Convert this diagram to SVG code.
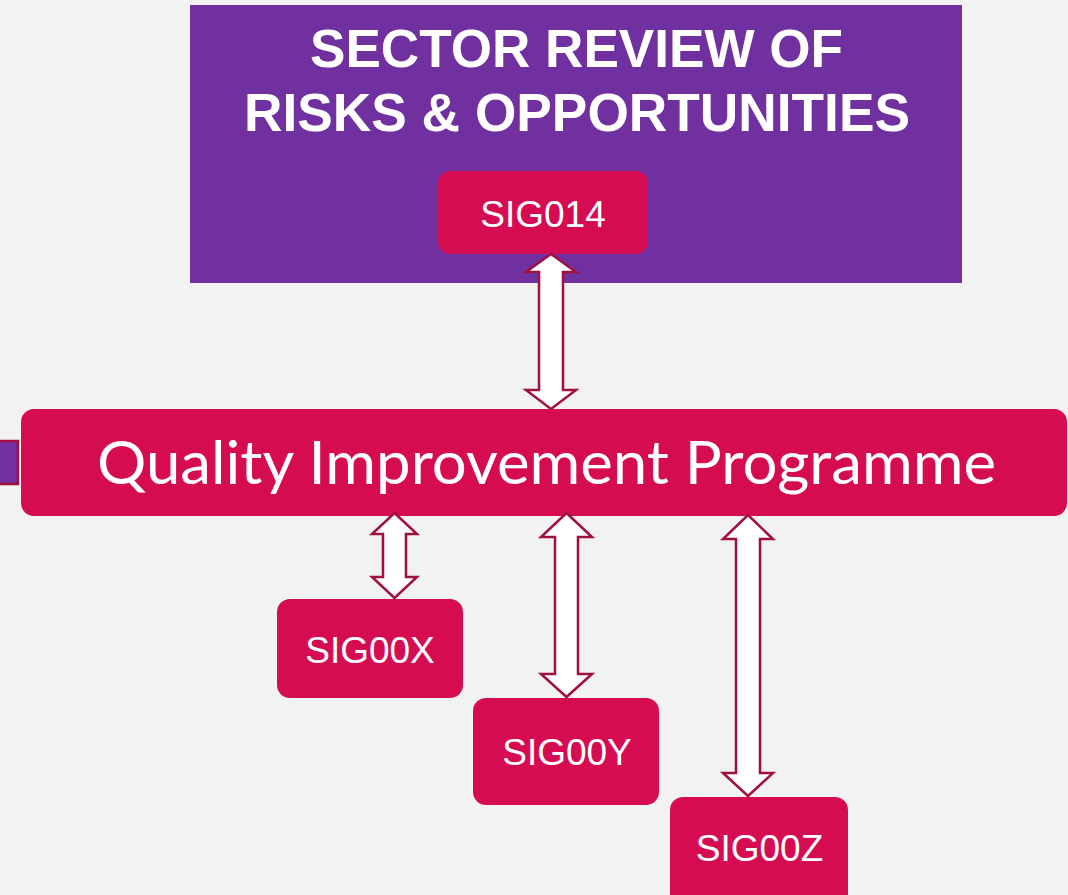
<svg xmlns="http://www.w3.org/2000/svg" width="1068" height="895" viewBox="0 0 1068 895">
<style>
.node{fill:#D60C52}
.sig{font-family:"Liberation Sans",Arial,sans-serif;font-size:37px;fill:#FFFFFF;text-anchor:middle}
.title{font-family:"Liberation Sans",Arial,sans-serif;font-weight:bold;font-size:54px;fill:#FFFFFF;text-anchor:middle}
.qip{font-family:Lato,"Open Sans",sans-serif;font-size:60px;fill:#FFFFFF;text-anchor:middle}
.arrow{fill:#FFFFFF;stroke:#A0103F;stroke-width:2.5;stroke-linejoin:miter}
</style>
<rect x="0" y="0" width="1068" height="895" fill="#F2F2F2"/>
<g id="sector-review">
<rect x="190" y="5" width="772" height="278" fill="#7030A0"/>
<text class="title" x="576.5" y="67" textLength="533" lengthAdjust="spacingAndGlyphs">SECTOR REVIEW OF</text>
<text class="title" x="577" y="131" textLength="666" lengthAdjust="spacingAndGlyphs">RISKS &amp; OPPORTUNITIES</text>
</g>
<g id="side-tab">
<rect x="-2" y="441" width="20" height="43" fill="#7030A0" stroke="#A50D3F" stroke-width="2.5"/>
</g>
<g id="qip">
<rect class="node" x="21" y="409" width="1046" height="107" rx="13"/>
<text class="qip" x="546.5" y="484" textLength="899" lengthAdjust="spacingAndGlyphs">Quality Improvement Programme</text>
</g>
<g id="sig014">
<rect class="node" x="438" y="171" width="210" height="83" rx="12"/>
<text class="sig" x="543" y="227">SIG014</text>
</g>
<g id="sig00x">
<rect class="node" x="277" y="599" width="186" height="99" rx="13"/>
<text class="sig" x="370" y="663">SIG00X</text>
</g>
<g id="sig00y">
<rect class="node" x="473" y="698" width="186" height="107" rx="13"/>
<text class="sig" x="567" y="765">SIG00Y</text>
</g>
<g id="sig00z">
<rect class="node" x="670" y="797" width="178" height="110" rx="13"/>
<text class="sig" x="759.5" y="861">SIG00Z</text>
</g>
<g id="connectors">
<path class="arrow" d="M551 254 L576 272 L563 272 L563 390 L576 390 L551 409 L526 390 L539 390 L539 272 L526 272 Z"/>
<path class="arrow" d="M394.5 513 L417 534 L406 534 L406 577 L417 577 L394.5 598 L372 577 L383 577 L383 534 L372 534 Z"/>
<path class="arrow" d="M566.5 513 L592 537 L578 537 L578 674 L592 674 L566.5 697 L541 674 L555 674 L555 537 L541 537 Z"/>
<path class="arrow" d="M748 515 L773 539 L760 539 L760 773 L773 773 L748 796 L723 773 L736 773 L736 539 L723 539 Z"/>
</g>
</svg>
